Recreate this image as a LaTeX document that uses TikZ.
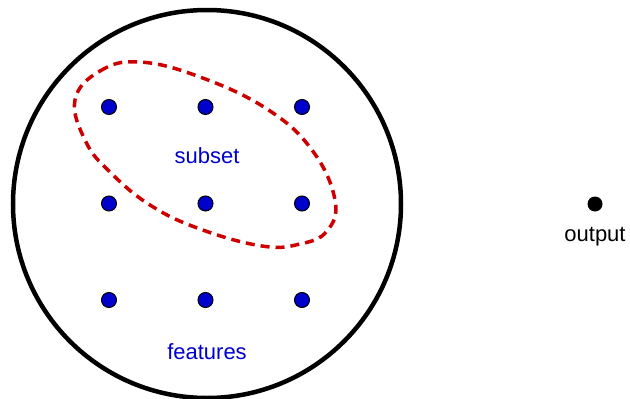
\documentclass[tikz,border=0pt]{standalone}
\usepackage{fontspec}
\setmainfont{Liberation Sans}
\usetikzlibrary{positioning}
\definecolor{featblue}{RGB}{0,0,204}
\definecolor{subred}{RGB}{204,0,0}

\begin{document}
\begin{tikzpicture}[x=1pt,y=-1pt,
  feature/.style={circle,draw=black,fill=featblue,line width=1pt,inner sep=0pt,minimum size=15pt},
  tag/.style={text=featblue,font=\fontsize{22}{26}\selectfont},
  outdot/.style={circle,fill=black,inner sep=0pt,minimum size=15pt}]

% Parameters for drawing only
\def\cx{207}
\def\cy{204}
\def\R{194}
\def\gap{96.5}

\useasboundingbox (0,0) rectangle (630,399);

% Feature space
\draw[line width=4.5pt] (\cx,\cy) circle (\R);

% Grid of features
\foreach \i in {0,1,2} {
  \foreach \j in {0,1,2} {
    \node[feature] (f-\i-\j) at (109+\i*\gap,107+\j*\gap) {};
  }
}

% Selected subset
\draw[subred,line width=3.5pt,dash pattern=on 9pt off 6pt]
  plot[smooth cycle,tension=0.7] coordinates {
    (75,100) (100,71) (140,62) (200,77) (267,109) (312,150)
    (335,200) (327,231) (300,244) (262,246) (200,229) (150,205)
    (110,172) (86,142)};

% Labels
\node[tag] (subset) at (207,156) {subset};
\node[tag] (features) at (207,352) {features};

% Output
\node[outdot] (out) at (595,204) {};
\node[below=12pt of out,font=\fontsize{22}{26}\selectfont] (outlabel) {output};

\end{tikzpicture}
\end{document}
